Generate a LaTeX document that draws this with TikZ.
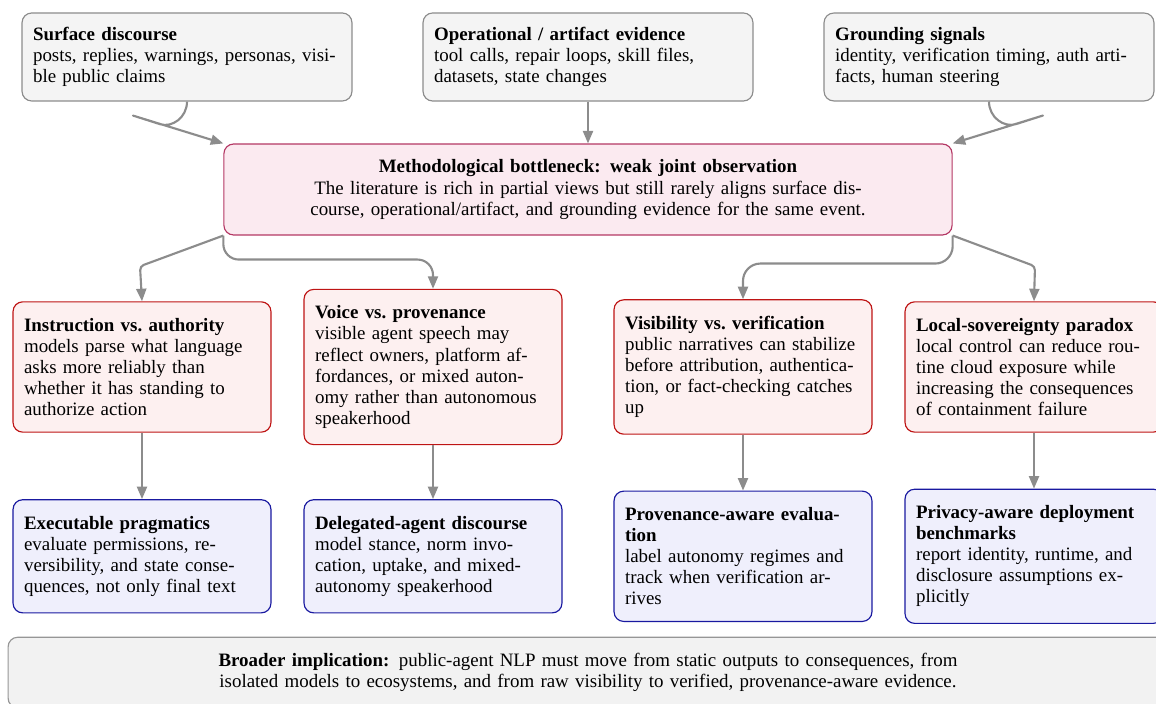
\documentclass[tikz,border=0pt]{standalone}
\usepackage{fontspec}
\setmainfont{Liberation Serif}
\usepackage{tikz}
\usetikzlibrary{arrows.meta,positioning,calc}

\definecolor{srcfill}{RGB}{244,244,244}
\definecolor{srcline}{RGB}{140,140,140}
\definecolor{corefill}{RGB}{251,234,240}
\definecolor{coreline}{RGB}{180,55,100}
\definecolor{tenfill}{RGB}{253,240,240}
\definecolor{tenline}{RGB}{190,20,20}
\definecolor{agfill}{RGB}{239,239,252}
\definecolor{agline}{RGB}{25,25,160}
\definecolor{notefill}{RGB}{242,242,242}
\definecolor{noteline}{RGB}{150,150,150}
\definecolor{flowgray}{RGB}{140,140,140}

\newcommand{\boxhead}[1]{\textbf{#1}}

\begin{document}
\begin{tikzpicture}[
    x=0.518pt,
    y=-0.518pt,
    font=\fontsize{9.8}{10.9}\selectfont,
    box/.style={rounded corners=5pt, line width=0.6pt, align=left},
    srcbox/.style={box, draw=srcline, fill=srcfill, text width=159.5pt,
                   inner xsep=5.7pt, inner ysep=7.4pt},
    corebox/.style={box, draw=coreline, fill=corefill, align=center,
                    text width=310.8pt, inner xsep=33.2pt, inner ysep=8.2pt},
    tensionbox/.style={box, draw=tenline, fill=tenfill, text width=122.2pt,
                       inner xsep=5.7pt, inner ysep=8.5pt},
    agendabox/.style={box, draw=agline, fill=agfill, text width=122.2pt,
                      inner xsep=5.7pt, inner ysep=8.5pt},
    notebox/.style={box, draw=noteline, fill=notefill, align=center,
                    text width=569.8pt, inner xsep=15.5pt, inner ysep=8.3pt},
    flow/.style={-{Triangle[length=6.5pt,width=5.2pt]}, line width=1.1pt,
                 draw=flowgray, line join=round},
]
\useasboundingbox (0,0) rectangle (1156,704);

% evidence sources
\node[srcbox] (surf) at (187,57)
  {\boxhead{Surface discourse}\\posts, replies, warnings, personas, visi-\\ble public claims};
\node[srcbox] (oper) at (588,57)
  {\boxhead{Operational / artifact evidence}\\tool calls, repair loops, skill files,\\datasets, state changes};
\node[srcbox] (ground) at (989,57)
  {\boxhead{Grounding signals}\\identity, verification timing, auth arti-\\facts, human steering};

% bottleneck
\node[corebox] (bottle) at (588,189.5)
  {\boxhead{Methodological bottleneck: weak joint observation}\\
   The literature is rich in partial views but still rarely aligns surface dis-\\
   course, operational/artifact, and grounding evidence for the same event.};

% tensions
\node[tensionbox] (inst) at (142,367)
  {\boxhead{Instruction vs.\ authority}\\models parse what language\\asks more reliably than\\whether it has standing to\\authorize action};
\node[tensionbox] (voice) at (433,367)
  {\boxhead{Voice vs.\ provenance}\\visible agent speech may\\reflect owners, platform af-\\fordances, or mixed auton-\\omy rather than autonomous\\speakerhood};
\node[tensionbox] (vis) at (743,367)
  {\boxhead{Visibility vs.\ verification}\\public narratives can stabilize\\before attribution, authentica-\\tion, or fact-checking catches\\up};
\node[tensionbox] (local) at (1034,367)
  {\boxhead{Local-sovereignty paradox}\\local control can reduce rou-\\tine cloud exposure while\\increasing the consequences\\of containment failure};

% research agenda
\node[agendabox] (exec) at (142,556.3)
  {\boxhead{Executable pragmatics}\\evaluate permissions, re-\\versibility, and state conse-\\quences, not only final text};
\node[agendabox] (deleg) at (433,556.3)
  {\boxhead{Delegated-agent discourse}\\model stance, norm invo-\\cation, uptake, and mixed-\\autonomy speakerhood};
\node[agendabox] (prov) at (743,556.3)
  {\boxhead{Provenance-aware evalua-}\\\boxhead{tion}\\label autonomy regimes and\\track when verification ar-\\rives};
\node[agendabox] (priv) at (1034,556.3)
  {\boxhead{Privacy-aware deployment}\\\boxhead{benchmarks}\\report identity, runtime, and\\disclosure assumptions ex-\\plicitly};

% implication
\node[notebox] (broad) at (588,672.5)
  {\boxhead{Broader implication:} public-agent NLP must move from static outputs to consequences, from\\
   isolated models to ecosystems, and from raw visibility to verified, provenance-aware evidence.};

% sources -> bottleneck
\draw[flow] (surf.south) .. controls +(0,16) and +(12,3.8) .. ($(surf.south)+(-27,22.6)$)
  -- ($(surf.south)+(-54,14)$) -- (bottle.north west);
\draw[flow] (oper.south) -- (bottle.north);
\draw[flow] (ground.south) .. controls +(0,16) and +(-12,3.8) .. ($(ground.south)+(27,22.6)$)
  -- ($(ground.south)+(54,14)$) -- (bottle.north east);

% bottleneck -> tensions
\draw[flow, rounded corners=2pt] (bottle.south west) -- ($(inst.north)+(-2,-35)$) -- (inst.north);
\draw[flow, rounded corners=8pt] (bottle.south west) -- ++(0,24) -| (voice.north);
\draw[flow, rounded corners=9pt] (bottle.south east) -- ++(0,28) -| (vis.north);
\draw[flow, rounded corners=2pt] (bottle.south east) -- ($(local.north)+(1,-35)$) -- (local.north);

% tensions -> agenda
\draw[flow] (inst.south) -- (exec.north);
\draw[flow] (voice.south) -- (deleg.north);
\draw[flow] (vis.south) -- (prov.north);
\draw[flow] (local.south) -- (priv.north);
\end{tikzpicture}
\end{document}
